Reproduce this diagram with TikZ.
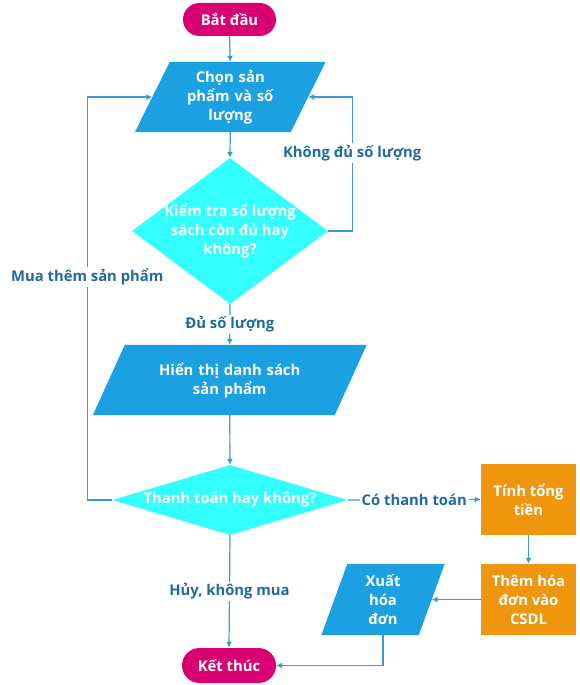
\documentclass[tikz,border=0pt]{standalone}
\usepackage{fontspec}
\setmainfont{Open Sans}
\usetikzlibrary{shapes.geometric,arrows.meta,backgrounds}
\definecolor{cmag}{HTML}{D80073}
\definecolor{cblue}{HTML}{1BA1E2}
\definecolor{ccyan}{HTML}{33FFFF}
\definecolor{corange}{HTML}{F0960E}
\definecolor{cline}{HTML}{3A9AD6}
\definecolor{clbl}{HTML}{1F6B9E}
\tikzset{
  txt/.style={text=white,font=\fontsize{14.8}{19}\selectfont\bfseries,align=center},
  pill/.style={txt,fill=cmag,rounded corners=16.5pt,minimum width=93pt,minimum height=33pt,inner sep=0pt},
  pbox/.style={txt,minimum height=70pt,inner sep=0pt},
  dia/.style={diamond,fill=ccyan,inner sep=0pt},
  obox/.style={txt,fill=corange,minimum width=95pt,minimum height=71pt,inner sep=0pt},
  arr/.style={draw=cline,line width=1.2pt,-{Latex[length=6pt,width=6pt]}},
  conn/.style={draw=cline,line width=1.2pt},
  lbl/.style={text=clbl,font=\fontsize{14.8}{19}\selectfont\bfseries,fill=white,inner sep=2pt}
}
\begin{document}
\begin{tikzpicture}[x=1pt,y=-1pt]
\useasboundingbox (0,0) rectangle (579,685);
\node[pill] (start) at (229.5,19.5) {Bắt đầu};
\node[pbox,minimum width=155.5pt,text width=120pt] (p1) at (230.25,97) {Chọn sản\\phẩm và số\\lượng};
\node[dia,minimum width=196pt,minimum height=146pt,label={[txt]center:Kiểm tra số lượng\\sách còn đủ hay\\không?}] (d1) at (230,231) {};
\node[pbox,minimum width=241.5pt,text width=200pt] (p2) at (229.75,380) {Hiển thị danh sách\\sản phẩm};
\node[dia,minimum width=235pt,minimum height=70pt,label={[txt]center:Thanh toán hay không?}] (d2) at (230,500) {};
\node[obox] (t1) at (528.5,499.5) {Tính tổng\\tiền};
\node[obox] (t2) at (528.5,599.5) {Thêm hóa\\đơn vào\\CSDL};
\node[pbox,minimum width=97pt,minimum height=71pt,text width=70pt] (p3) at (383,599.5) {Xuất\\hóa\\đơn};
\node[pill,minimum width=94pt,minimum height=35pt,rounded corners=17.5pt] (end) at (229,665.5) {Kết thúc};
\begin{scope}[on background layer]
\fill[cblue] ([xshift=17.5pt]p1.north west) -- ([xshift=17.5pt]p1.north east) -- ([xshift=-17.5pt]p1.south east) -- ([xshift=-17.5pt]p1.south west) -- cycle;
\fill[cblue] ([xshift=16pt]p2.north west) -- ([xshift=16pt]p2.north east) -- ([xshift=-16pt]p2.south east) -- ([xshift=-16pt]p2.south west) -- cycle;
\fill[cblue] ([xshift=13pt]p3.north west) -- ([xshift=13pt]p3.north east) -- ([xshift=-13pt]p3.south east) -- ([xshift=-13pt]p3.south west) -- cycle;
\end{scope}
\draw[arr] (start.south) -- (p1.north);
\draw[arr] (p1.south) -- (d1.north);
\draw[arr] (d1.east) -- ++(24,0) |- (p1.east) node[lbl,pos=0.29] {Không đủ số lượng};
\draw[arr] (d1.south) -- (p2.north) node[lbl,midway] {Đủ số lượng};
\draw[arr] (p2.south) -- (d2.north);
\draw[arr] (d2.west) -- ++(-25,0) |- (p1.west) node[lbl,pos=0.277] {Mua thêm sản phẩm};
\draw[arr] (d2.east) -- (t1.west) node[lbl,midway] {Có thanh toán};
\draw[arr] (t1.south) -- (t2.north);
\draw[arr] (t2.west) -- (p3.east);
\draw[arr] (p3.south) |- (end.east);
\draw[arr] (d2.south) -- (end.north) node[lbl,midway] {Hủy, không mua};
\end{tikzpicture}
\end{document}
